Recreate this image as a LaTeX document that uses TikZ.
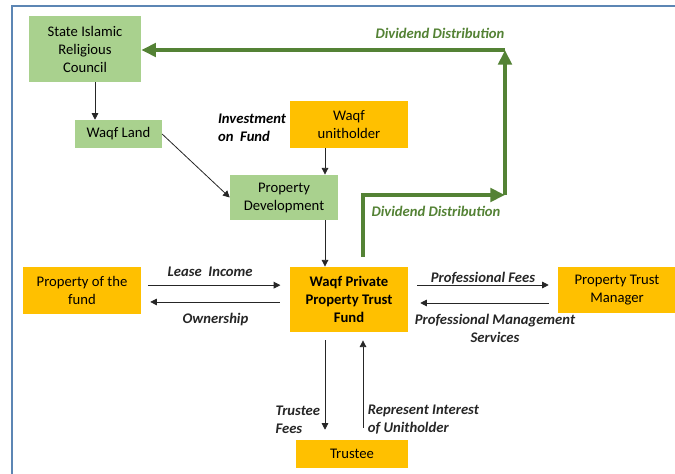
\documentclass[tikz,border=0pt]{standalone}
\usepackage{fontspec}
\setmainfont{Carlito}
\usetikzlibrary{arrows.meta,positioning}
\definecolor{boxgreen}{RGB}{169,209,142}
\definecolor{boxorange}{RGB}{255,192,0}
\definecolor{divgreen}{RGB}{84,130,53}
\definecolor{framecol}{RGB}{92,134,180}

\begin{document}
\begin{tikzpicture}[x=0.75pt, y=-0.75pt,
	gbox/.style={shape=rectangle, fill=boxgreen, inner sep=2pt, align=center, font=\fontsize{11}{13.5}\selectfont},
	obox/.style={shape=rectangle, fill=boxorange, inner sep=2pt, align=center, font=\fontsize{11}{13.5}\selectfont},
	lbl/.style={font=\fontsize{11}{13.5}\selectfont\bfseries\itshape},
	flow/.style={-{Triangle[length=5pt,width=5pt]}, color=black!85, line width=0.6pt},
	div/.style={-{Triangle[length=11pt,width=10pt]}, draw=divgreen, line width=3pt}]
	
	\useasboundingbox (0,0) rectangle (675,474);
	\draw[framecol, line width=1.2pt] (12,474) -- (12,6) -- (675,6);
	
	\node[gbox, minimum width=84pt, minimum height=49.5pt] (sirc) at (85,49) {State Islamic\\Religious\\Council};
	\node[gbox, minimum width=65pt, minimum height=21pt] (land) at (118.5,134) {Waqf Land};
	\node[obox, minimum width=88.5pt, minimum height=35pt] (unit) at (349,124.5) {Waqf\\unitholder};
	\node[gbox, minimum width=81pt, minimum height=34pt] (dev) at (284,197.5) {Property\\Development};
	\node[obox, minimum width=88.5pt, minimum height=49pt, font=\fontsize{11}{13.5}\selectfont\bfseries] (fund) at (349,299.5) {Waqf Private\\Property Trust\\Fund};
	\node[obox, minimum width=88.5pt, minimum height=35pt] (prop) at (82,290.5) {Property of the\\fund};
	\node[obox, minimum width=88.5pt, minimum height=34.5pt] (mgr) at (617,290) {Property Trust\\Manager};
	\node[obox, minimum width=84pt, minimum height=21pt] (trustee) at (352,454) {Trustee};
	
	\node[lbl, align=left] (invest) at (252,128) {Investment\\on\ \ Fund};
	\node[lbl, text=divgreen] (divtop) at (440,33) {Dividend Distribution};
	\node[lbl, text=divgreen] (divlow) at (436,211) {Dividend Distribution};
	
	\coordinate (turn) at (505,195);
	\coordinate (top) at (505,50);
	
	\path[flow] ([xshift=7.5pt]sirc.south) edge ([xshift=7.5pt]sirc.south |- land.north);
	\path[flow] (land.east) edge (dev.west);
	\path[flow] ([xshift=-18pt]unit.south) edge ([xshift=-18pt]unit.south |- dev.north);
	\path[flow] ([xshift=-18pt]fund.north |- dev.south) edge ([xshift=-18pt]fund.north);
	\path[flow, shorten <=5pt, shorten >=7pt] ([yshift=4pt]prop.east) edge node[lbl, above, xshift=-4pt, yshift=3pt]{Lease\ \ Income} ([yshift=4pt]prop.east -| fund.west);
	\path[flow, shorten <=7.5pt, shorten >=6.75pt] ([yshift=-8.6pt]prop.east -| fund.west) edge node[lbl, below, yshift=-4.5pt]{Ownership} ([yshift=-8.6pt]prop.east);
	\path[flow, shorten <=6.75pt, shorten >=6.75pt] ([yshift=3.75pt]mgr.west -| fund.east) edge node[lbl, above, yshift=-3pt]{Professional Fees} ([yshift=3.75pt]mgr.west);
	\path[flow, shorten <=6.75pt, shorten >=9pt] ([yshift=-9.75pt]mgr.west) edge node[lbl, below, align=center, xshift=9pt, yshift=-4.5pt]{Professional Management\\Services} ([yshift=-9.75pt]mgr.west -| fund.east);
	\path[flow, shorten <=6pt, shorten >=7.5pt] ([xshift=-18pt]fund.south) edge node[lbl, left, align=left, pos=0.81]{Trustee\\Fees} ([xshift=-18pt]fund.south |- trustee.north);
	\path[flow, shorten <=9pt, shorten >=6pt] ([xshift=10.5pt]fund.south |- trustee.north) edge node[lbl, right, align=left, pos=0.185]{Represent Interest\\of Unitholder} ([xshift=10.5pt]fund.south);
	
	\draw[div] ([xshift=10.5pt,yshift=7.5pt]fund.north) |- (turn);
	\draw[div] (turn) -- (top);
	\draw[div] (top) -- (sirc.east |- top);
	
\end{tikzpicture}
\end{document}
